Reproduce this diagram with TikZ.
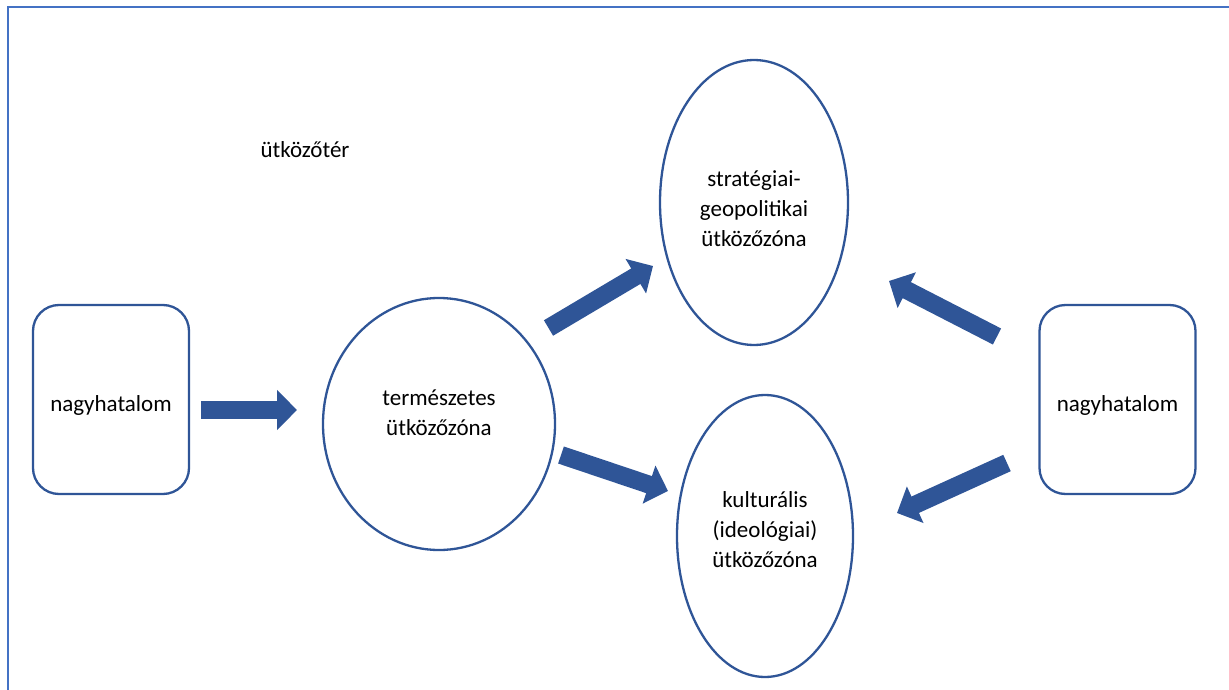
\documentclass[tikz,border=0pt]{standalone}
\usepackage{fontspec}
\setmainfont{Carlito}
\usetikzlibrary{shapes.geometric,arrows.meta}
\definecolor{dblue}{HTML}{2F5597}
\definecolor{fblue}{HTML}{4472C4}
\tikzset{
  shapeline/.style={draw=dblue,line width=2.3pt,fill=white},
  rbox/.style={shapeline,rectangle,rounded corners=26pt,minimum width=156pt,minimum height=189pt,inner sep=0pt},
  ell/.style={shapeline,ellipse,inner sep=0pt},
  lbl/.style={align=center,font=\fontsize{23pt}{30pt}\selectfont,text=black,inner sep=0pt},
  fatarrow/.style={draw=dblue,line width=18pt,-{Triangle[length=20pt,width=39pt]}},
}
\begin{document}
\begin{tikzpicture}[x=1pt,y=-1pt]
\useasboundingbox (0,0) rectangle (1229,690);
\draw[fblue,line width=2pt] (8,690) -- (8,7) -- (1229,7);
\node[lbl] (title) at (305,150) {ütközőtér};
\node[rbox] (L) at (111,399.5) {};
\node[lbl] (Lt) at (111,405) {nagyhatalom};
\node[rbox] (R) at (1117.5,399.5) {};
\node[lbl] (Rt) at (1117.5,405) {nagyhatalom};
\node[ell,minimum width=232pt,minimum height=252pt] (M) at (439,424) {};
\node[lbl] (Mt) at (439,413) {természetes\\ütközőzóna};
\node[ell,minimum width=188pt,minimum height=285pt] (T) at (754,202.5) {};
\node[lbl] (Tt) at (754,209) {stratégiai-\\geopolitikai\\ütközőzóna};
\node[ell,minimum width=176pt,minimum height=282pt] (B) at (765,536) {};
\node[lbl] (Bt) at (765,530) {kulturális\\(ideológiai)\\ütközőzóna};
\coordinate (a1s) at (201,410);
\coordinate (a1e) at (297,410);
\coordinate (a2s) at (548.5,328);
\coordinate (a2e) at (653,266);
\coordinate (a3s) at (997,336.5);
\coordinate (a3e) at (889,281);
\coordinate (a4s) at (1007,463);
\coordinate (a4e) at (897,513);
\coordinate (a5s) at (561,455);
\coordinate (a5e) at (668,491);
\draw[fatarrow] (a1s) -- (a1e);
\draw[fatarrow] (a2s) -- (a2e);
\draw[fatarrow] (a3s) -- (a3e);
\draw[fatarrow] (a4s) -- (a4e);
\draw[fatarrow] (a5s) -- (a5e);
\end{tikzpicture}
\end{document}
